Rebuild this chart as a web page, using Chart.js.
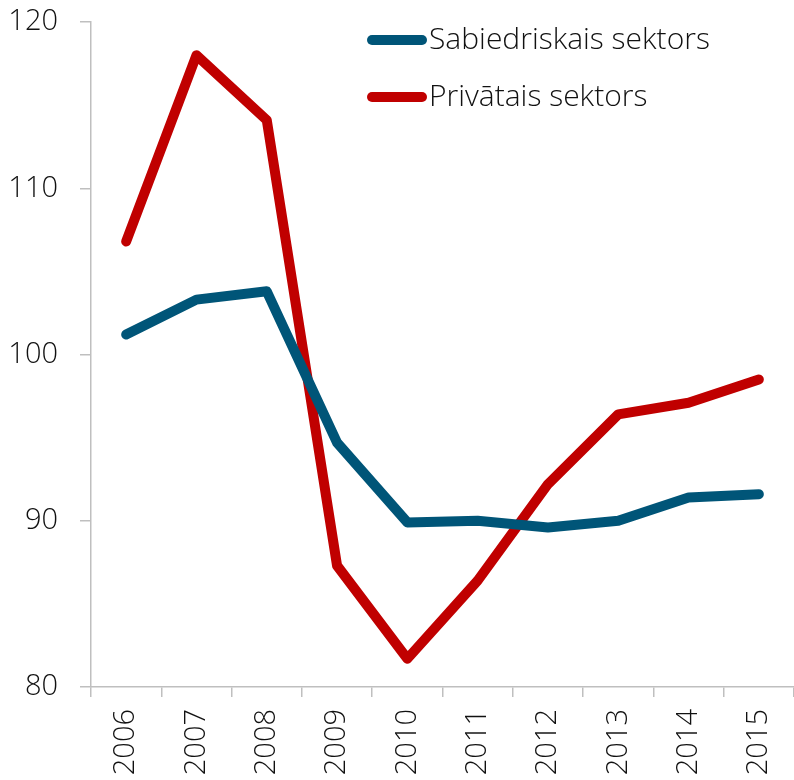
<!DOCTYPE html>
<html>
<head>
<meta charset="utf-8">
<script src="https://cdn.jsdelivr.net/npm/chart.js@4/dist/chart.umd.min.js"></script>
<style>
  html, body { margin: 0; padding: 0; background: #fff; }
  #wrap { width: 794px; height: 780px; }
</style>
</head>
<body>
<div id="wrap"><canvas id="line-canvas"></canvas></div>
<script>
const years = ["2006", "2007", "2008", "2009", "2010", "2011", "2012", "2013", "2014", "2015"]
const sabiedriskais = [101.2, 103.3, 103.8, 94.7, 89.9, 90.0, 89.6, 90.0, 91.4, 91.6]
const privatais = [106.8, 118.0, 114.1, 87.3, 81.7, 86.4, 92.2, 96.4, 97.1, 98.5]
const seriesLabels = ["Sabiedriskais sektors", "Privātais sektors"]
const yTicks = [80, 90, 100, 110, 120]

const FONT = "'Open Sans', 'Noto Sans', sans-serif"
const axisGrey = "#bfbfbf"
const textColor = "#111111"

// legend drawn inside the plot, top right, like the original
const insideLegend = {
    id: "insideLegend",
    afterDatasetsDraw(chart) {
        const ctx = chart.ctx
        const area = chart.chartArea
        const x0 = area.left + 276
        const y0 = area.top + 18
        ctx.save()
        chart.data.datasets.forEach((ds, i) => {
            const y = y0 + i * 57
            ctx.strokeStyle = ds.borderColor
            ctx.lineWidth = 10
            ctx.lineCap = "round"
            ctx.beginPath()
            ctx.moveTo(x0 + 5, y)
            ctx.lineTo(x0 + 55, y)
            ctx.stroke()
            ctx.fillStyle = textColor
            ctx.font = "300 30px " + FONT
            ctx.textBaseline = "middle"
            ctx.fillText(ds.label, x0 + 62, y)
        })
        ctx.restore()
    }
}

const lineChart = new Chart(document.getElementById("line-canvas"), {
    type: "line",
    data: {
        labels: years,
        datasets: [{
            label: seriesLabels[0],
            data: sabiedriskais,
            borderColor: "#005578",
            borderWidth: 10,
            borderCapStyle: "round",
            borderJoinStyle: "round",
            pointRadius: 0,
            tension: 0,
            fill: false
        }, {
            label: seriesLabels[1],
            data: privatais,
            borderColor: "#c00000",
            borderWidth: 10,
            borderCapStyle: "round",
            borderJoinStyle: "round",
            pointRadius: 0,
            tension: 0,
            fill: false
        }]
    },
    plugins: [insideLegend],
    options: {
        responsive: true,
        maintainAspectRatio: false,
        animation: false,
        layout: { padding: { top: 22, right: 0, left: 0, bottom: 0 } },
        plugins: {
            legend: { display: false },
            tooltip: { enabled: false }
        },
        scales: {
            x: {
                offset: true,
                grid: {
                    offset: true,
                    drawOnChartArea: false,
                    drawTicks: true,
                    tickLength: 10,
                    color: axisGrey,
                    lineWidth: 1.5
                },
                border: { color: axisGrey, width: 1.5 },
                ticks: {
                    minRotation: 90,
                    maxRotation: 90,
                    padding: 12,
                    color: textColor,
                    font: { family: FONT, size: 29, weight: 300 }
                },
                afterFit(scale) {
                    scale.height = 93
                    scale.paddingLeft = 0
                    scale.paddingRight = 0
                }
            },
            y: {
                min: 80,
                max: 120,
                afterBuildTicks(scale) { scale.ticks = yTicks.map(v => ({ value: v })) },
                grid: {
                    drawOnChartArea: false,
                    drawTicks: true,
                    tickLength: 11,
                    color: axisGrey,
                    lineWidth: 1.5
                },
                border: { color: axisGrey, width: 1.5 },
                ticks: {
                    padding: 22,
                    color: textColor,
                    font: { family: FONT, size: 29, weight: 300 }
                },
                afterFit(scale) {
                    scale.width = 91
                    scale.paddingTop = 0
                    scale.paddingBottom = 0
                }
            }
        }
    }
})
</script>
</body>
</html>
